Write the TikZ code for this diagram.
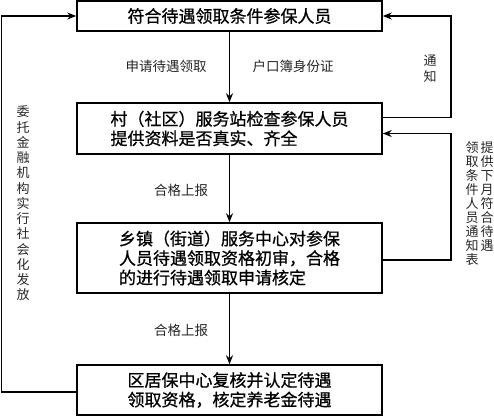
\documentclass[tikz,border=0pt]{standalone}
\usepackage{fontspec}
\setmainfont{Noto Sans CJK SC}
\newfontfamily\boxfont{Noto Sans CJK SC}[FakeBold=0.7]
\usetikzlibrary{arrows.meta}
\begin{document}
\begin{tikzpicture}[x=1pt,y=-1pt,
  box/.style={draw, line width=1.5pt, minimum width=305pt, inner sep=0pt, align=left, font=\boxfont\fontsize{17}{19.5}\selectfont},
  lbl/.style={font=\fontsize{13.5}{16}\selectfont, inner sep=0pt, text=black!85},
  vlbl/.style={inner sep=0pt, align=center, text=black!85},
  arr/.style={line width=1.5pt, -{Stealth[length=9pt,width=7pt]}}]
\useasboundingbox (0,0) rectangle (494,416);
\node[box, minimum height=30pt] (b1) at (229.5,16) {符合待遇领取条件参保人员};
\node[box, minimum height=51pt] (b2) at (229.5,128.5) {村（社区）服务站检查参保人员\\提供资料是否真实、齐全};
\node[box, minimum height=70pt] (b3) at (229.5,258) {乡镇（街道）服务中心对参保\\人员待遇领取资格初审，合格\\的进行待遇领取申请核定};
\node[box, minimum height=50pt] (b4) at (229.5,390) {区居保中心复核并认定待遇\\领取资格，核定养老金待遇};
\draw[arr] (b1.south) -- (b2.north);
\draw[arr] (b2.south) -- (b3.north);
\draw[arr] (b3.south) -- (b4.north);
\draw[arr] ([yshift=-2pt]b4.west) -- ++(-75,0) |- (b1.west);
\draw[arr] ([yshift=11pt]b2.east) -- ++(68,0) |- (b1.east);
\draw[arr] ([yshift=-2pt]b3.east) -- ++(68,0) |- ([yshift=-5pt]b2.east);
\node[lbl] (l1) at (166,66) {申请待遇领取};
\node[lbl] (l2) at (293,66) {户口簿身份证};
\node[lbl] (l3) at (181,190) {合格上报};
\node[lbl] (l4) at (181,330) {合格上报};
\node[vlbl, font=\fontsize{13}{15.25}\selectfont] (vl) at (23,203.5) {委\\托\\金\\融\\机\\构\\实\\行\\社\\会\\化\\发\\放};
\node[vlbl, font=\fontsize{13}{16}\selectfont] (vn) at (430,69) {通\\知};
\node[vlbl, font=\fontsize{13}{14.1}\selectfont] (vr1) at (472,203.5) {领\\取\\条\\件\\人\\员\\通\\知\\表};
\node[vlbl, font=\fontsize{13}{14.1}\selectfont] (vr2) at (487,196.5) {提\\供\\下\\月\\符\\合\\待\\遇};
\end{tikzpicture}
\end{document}
